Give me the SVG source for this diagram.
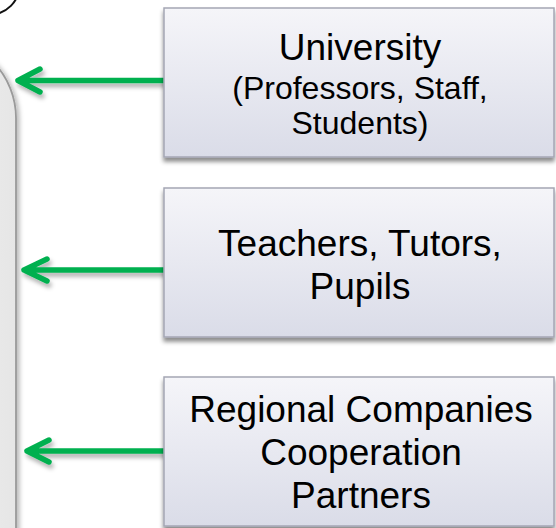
<svg xmlns="http://www.w3.org/2000/svg" width="556" height="528" viewBox="0 0 556 528">
<defs>
<linearGradient id="boxFill" x1="0" y1="0" x2="0" y2="1">
<stop offset="0" stop-color="#F5F5F9"/>
<stop offset="1" stop-color="#DADCE8"/>
</linearGradient>
<linearGradient id="sideFill" x1="0" y1="0" x2="1" y2="0">
<stop offset="0" stop-color="#F4F4F4"/>
<stop offset="1" stop-color="#E6E6E6"/>
</linearGradient>
<filter id="boxShadow" x="-10%" y="-10%" width="120%" height="125%">
<feDropShadow dx="0" dy="4" stdDeviation="2" flood-color="#000" flood-opacity="0.45"/>
</filter>
<filter id="arrowShadow" x="-20%" y="-50%" width="140%" height="200%">
<feDropShadow dx="2" dy="4" stdDeviation="2" flood-color="#000" flood-opacity="0.3"/>
</filter>
<filter id="sideShadow" x="-20%" y="-10%" width="150%" height="120%">
<feDropShadow dx="3" dy="2" stdDeviation="2" flood-color="#000" flood-opacity="0.25"/>
</filter>
</defs>
<style>
.box{fill:url(#boxFill);stroke:#A4A6B4;stroke-width:1.5;filter:url(#boxShadow)}
.big{font-family:"Liberation Sans",Arial,sans-serif;font-size:37px;fill:#000;text-anchor:middle}
.small{font-family:"Liberation Sans",Arial,sans-serif;font-size:32px;fill:#000;text-anchor:middle}
.arrow{fill:none;stroke:#00B050;stroke-width:5.5;stroke-linecap:round;stroke-linejoin:round}
</style>
<rect width="556" height="528" fill="#FFFFFF"/>
<g id="side">
<path d="M -100 38 L -64 38 A 80 80 0 0 1 16 118 L 16 540 L -100 540 Z" fill="url(#sideFill)" stroke="#9A9A9A" stroke-width="1.8" filter="url(#sideShadow)"/>
<circle cx="-10" cy="-15" r="29.5" fill="#FFFFFF" stroke="#111111" stroke-width="2"/>
</g>
<g id="connectors" filter="url(#arrowShadow)">
<path class="arrow" d="M 164 80.5 L 18 80.5 M 40 69 L 18 80.5 L 40 92"/>
<path class="arrow" d="M 164 270 L 24 270 M 47 259 L 24 270 L 47 281"/>
<path class="arrow" d="M 164 451 L 27 451 M 49 440 L 27 451 L 49 462"/>
</g>
<g id="university">
<rect class="box" x="164" y="8" width="390" height="149"/>
<text class="big" x="360" y="60">University</text>
<text class="small" x="360" y="99">(Professors, Staff,</text>
<text class="small" x="360" y="134">Students)</text>
</g>
<g id="teachers">
<rect class="box" x="164" y="188" width="390" height="149"/>
<text class="big" x="360" y="256">Teachers, Tutors,</text>
<text class="big" x="360" y="299">Pupils</text>
</g>
<g id="companies">
<rect class="box" x="164" y="377" width="390" height="149"/>
<text class="big" x="361" y="422">Regional Companies</text>
<text class="big" x="361" y="465">Cooperation</text>
<text class="big" x="361" y="508">Partners</text>
</g>
</svg>
